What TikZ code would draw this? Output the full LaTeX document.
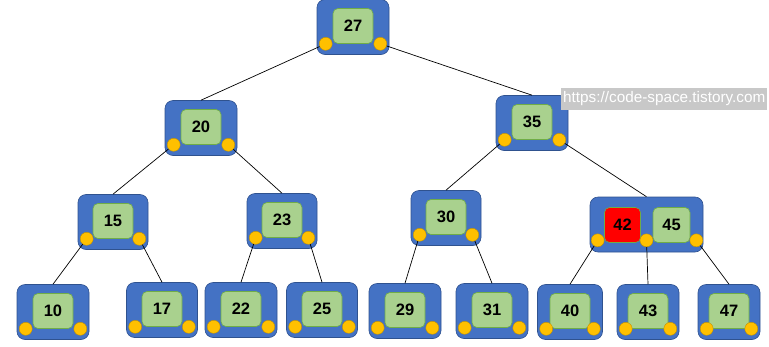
\documentclass[tikz,border=0pt]{standalone}
\usepackage{fontspec}
\setmainfont{Liberation Sans}
\newfontfamily\markfont{Liberation Sans}
\usetikzlibrary{positioning}
\definecolor{nodeblue}{RGB}{68,114,196}
\definecolor{nodeblueline}{RGB}{47,82,143}
\definecolor{keygreen}{RGB}{169,209,142}
\definecolor{keygreenline}{RGB}{112,173,71}
\definecolor{keyred}{RGB}{255,0,0}
\definecolor{portgold}{RGB}{255,192,0}
\definecolor{portline}{RGB}{191,144,0}
\definecolor{markgray}{RGB}{200,200,200}

\begin{document}
\begin{tikzpicture}[x=1pt,y=-1pt,
  box/.style={draw=nodeblueline,fill=nodeblue,rounded corners=8pt,minimum height=55pt,line width=0.6pt},
  key/.style={draw=keygreenline,fill=keygreen,rounded corners=5pt,minimum width=40pt,minimum height=35pt,line width=0.6pt,font=\bfseries\fontsize{16.5}{16}\selectfont},
  port/.style={circle,draw=portline,fill=portgold,inner sep=0pt,minimum size=13pt,line width=0.4pt},
  link/.style={line width=0.7pt}]
  \useasboundingbox (0,0) rectangle (769,346);
  % one-key nodes
  \foreach \nm/\x/\y/\w in {27/353/27/72, 20/201/128/72, 35/532/123/72,
      15/113/222/70, 23/282/221/70, 30/446/218/70,
      10/53/312/72, 17/162/310/71, 22/241/310/72, 25/322/310/71,
      29/405/311/72, 31/492/311/72, 40/570/312/65, 43/648/312/62, 47/729/312/62}{
    \node[box,minimum width=\w pt] (n\nm) at (\x,\y) {};
    \node[key] (k\nm) at (\x,\y-1) {\nm};
    \node[port] (n\nm l) at ([xshift=9pt,yshift=11pt]n\nm.south west) {};
    \node[port] (n\nm r) at ([xshift=-9pt,yshift=11pt]n\nm.south east) {};
  }
  % the two-key node
  \node[box,minimum width=113pt] (n4245) at (646.5,224.5) {};
  \node[key,fill=keyred,draw=keygreenline,minimum width=36pt] (k42) at (622.5,225) {42};
  \node[key,minimum width=37pt] (k45) at (671.5,225) {45};
  \node[port] (n4245a) at ([xshift=8pt,yshift=12pt]n4245.south west) {};
  \node[port] (n4245b) at ([yshift=12pt]n4245.south) {};
  \node[port] (n4245c) at ([xshift=-7pt,yshift=12pt]n4245.south east) {};
  % links
  \foreach \a/\b in {27l/20, 27r/35, 20l/15, 20r/23, 35l/30, 35r/4245,
      15l/10, 15r/17, 23l/22, 23r/25, 30l/29, 30r/31,
      4245a/40, 4245b/43, 4245c/47}
    \draw[link] (n\a) -- (n\b.north);
  % watermark
  \node[fill=markgray,text=white,anchor=west,inner sep=2pt,minimum height=22pt,
    font=\markfont\fontsize{15.3}{15}\selectfont] (mark) at (561,99) {https://code-space.tistory.com};
\end{tikzpicture}
\end{document}
